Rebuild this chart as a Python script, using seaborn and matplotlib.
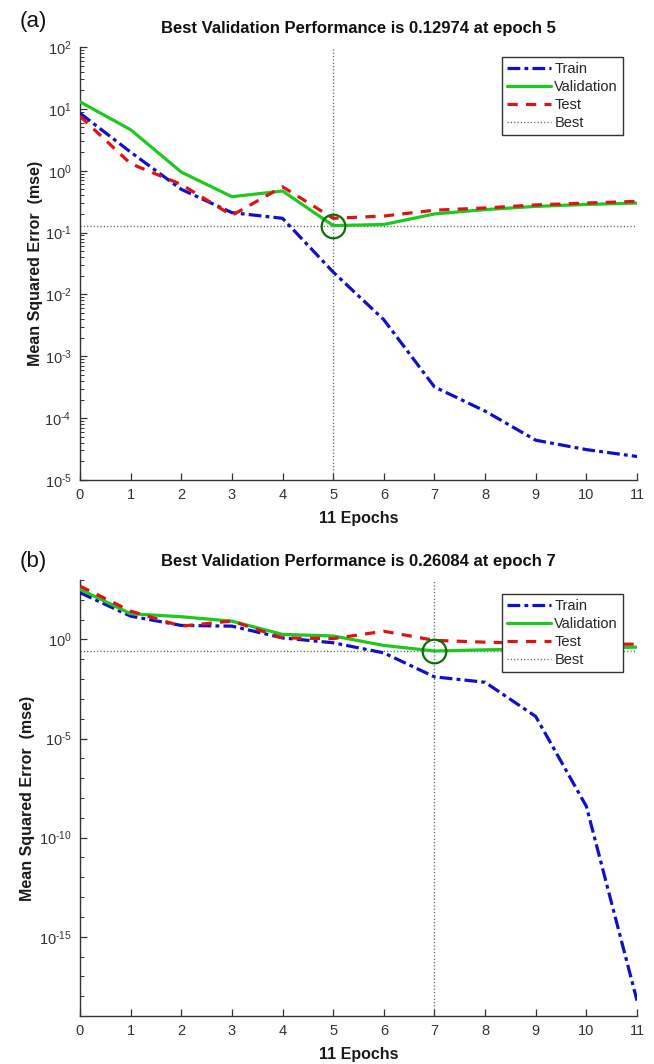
import numpy as np
import pandas as pd
import matplotlib
matplotlib.use("Agg")
import matplotlib.pyplot as plt
import seaborn as sns
from matplotlib.ticker import FixedLocator, LogLocator, FuncFormatter, NullFormatter
from matplotlib.lines import Line2D

# ---------------- data ----------------
epochs = list(range(12))

train_a = [8.5, 2.0, 0.5, 0.21, 0.17, 0.023, 0.0039, 3.2e-4, 1.3e-4, 4.4e-5, 3.1e-5, 2.4e-5]
val_a = [13.0, 4.6, 0.95, 0.38, 0.47, 0.12974, 0.135, 0.2, 0.235, 0.265, 0.285, 0.3]
test_a = [7.6, 1.3, 0.6, 0.19, 0.55, 0.17, 0.185, 0.23, 0.25, 0.28, 0.3, 0.32]
best_epoch_a = 5
best_val_a = 0.12974

train_b = [230, 15, 5.1, 4.7, 1.2, 0.68, 0.21, 0.013, 0.0069, 1.3e-4, 3.8e-9, 6e-19]
val_b = [340, 20, 14, 8.4, 1.8, 1.5, 0.5, 0.26084, 0.3, 0.33, 0.37, 0.41]
test_b = [490, 27, 4.7, 8.5, 1.2, 1.1, 2.6, 0.9, 0.73, 0.62, 0.56, 0.58]
best_epoch_b = 7
best_val_b = 0.26084

series_names = ["Train", "Validation", "Test", "Best"]
panel_tags = ["(a)", "(b)"]
x_label = "11 Epochs"
y_label = "Mean Squared Error  (mse)"

# ---------------- style ----------------
sns.set_theme(style="white")
plt.rcParams["font.family"] = ["Liberation Sans", "DejaVu Sans"]
plt.rcParams["mathtext.fontset"] = "custom"
plt.rcParams["mathtext.rm"] = "Liberation Sans"
plt.rcParams["mathtext.it"] = "Liberation Sans:italic"
plt.rcParams["mathtext.bf"] = "Liberation Sans:bold"
plt.rcParams["axes.unicode_minus"] = False

C_TRAIN = "#1010c8"
C_VAL = "#1ec81e"
C_TEST = "#dc1414"
C_BEST = "#3f6f4f"
C_CIRC = "#0a6e0a"
C_AX = "#333333"

LS_TRAIN = (0, (4.0, 1.3, 1.2, 1.3))
LS_TEST = (0, (3.2, 2.6))
LS_BEST = (0, (0.8, 1.6))
LW = 2.3


def pow_fmt(v, pos):
    e = int(round(np.log10(v)))
    if e < 0:
        return r"$\mathdefault{10^{\text{-}%d}}$" % (-e)
    return r"$\mathdefault{10^{%d}}$" % e


fig = plt.figure(figsize=(6.54, 10.64), dpi=100)
W, H = 654, 1064

def add_axes(left, top, right, bottom):
    return fig.add_axes([left / W, 1 - bottom / H, (right - left) / W, (bottom - top) / H])

ax_a = add_axes(80, 47, 637, 480)
ax_b = add_axes(80, 580, 637, 1016)


def draw(ax, tr, va, te, best_ep, best_v, ylim, ylab_right_px):
    df = pd.DataFrame({"Epoch": epochs, "Train": tr, "Validation": va, "Test": te})
    sns.lineplot(data=df, x="Epoch", y="Train", ax=ax, color=C_TRAIN, lw=LW,
                 linestyle=LS_TRAIN, zorder=3)
    sns.lineplot(data=df, x="Epoch", y="Validation", ax=ax, color=C_VAL, lw=LW,
                 linestyle="-", zorder=4)
    sns.lineplot(data=df, x="Epoch", y="Test", ax=ax, color=C_TEST, lw=LW,
                 linestyle=LS_TEST, zorder=5)
    ax.set_yscale("log")
    ax.set_xlim(0, 11)
    ax.set_ylim(*ylim)
    ax.axhline(best_v, color=C_BEST, lw=1.0, linestyle=LS_BEST, zorder=2)
    ax.axvline(best_ep, color=C_BEST, lw=1.0, linestyle=LS_BEST, zorder=2)
    ax.plot([best_ep], [best_v], marker="o", markersize=17, mfc="none",
            mec=C_CIRC, mew=1.6, zorder=6)
    ax.set_xticks(epochs)
    ax.set_xticklabels([str(e) for e in epochs])
    for s in ["top", "right"]:
        ax.spines[s].set_visible(False)
    for s in ["left", "bottom"]:
        ax.spines[s].set_color(C_AX)
        ax.spines[s].set_linewidth(1.0)
    ax.tick_params(axis="both", which="both", left=True, bottom=True, top=False, right=False)
    ax.tick_params(axis="both", which="major", direction="in", length=5, width=0.9,
                   color=C_AX, labelcolor="#333333", labelsize=10.5, pad=6)
    ax.tick_params(axis="y", which="minor", direction="in", length=3, width=0.7, color=C_AX)
    ax.tick_params(axis="x", which="minor", length=0)
    ax.set_xlabel(x_label, fontsize=11.5, fontweight="bold", color="#1a1a1a", labelpad=6)
    ax.set_ylabel(y_label, fontsize=11.5, fontweight="bold", color="#1a1a1a")
    ax.yaxis.set_label_coords((ylab_right_px - 80) / 557, 0.5)
    ax.grid(False)
    ax.set_facecolor("white")
    handles = [
        Line2D([], [], color=C_TRAIN, lw=LW, linestyle=LS_TRAIN),
        Line2D([], [], color=C_VAL, lw=LW, linestyle="-"),
        Line2D([], [], color=C_TEST, lw=LW, linestyle=LS_TEST),
        Line2D([], [], color=C_BEST, lw=1.0, linestyle=LS_BEST),
    ]
    return handles


h = draw(ax_a, train_a, val_a, test_a, best_epoch_a, best_val_a, (1e-5, 1e2), 43)
ax_a.yaxis.set_major_locator(FixedLocator([10.0 ** k for k in range(-5, 3)]))
ax_a.yaxis.set_major_formatter(FuncFormatter(pow_fmt))
ax_a.yaxis.set_minor_locator(LogLocator(base=10, subs=np.arange(2, 10), numticks=40))
ax_a.yaxis.set_minor_formatter(NullFormatter())
ax_a.set_title(f"Best Validation Performance is {best_val_a:.5f} at epoch {best_epoch_a}",
               fontsize=12, fontweight="bold", color="#111111", pad=10)
leg = ax_a.legend(h, series_names, loc="upper right", bbox_to_anchor=(0.975, 0.977),
                  frameon=True, fancybox=False, framealpha=1, edgecolor="#333333",
                  fontsize=10.5, handlelength=3.0, handletextpad=0.25,
                  labelspacing=0.28, borderpad=0.35, borderaxespad=0)
leg.get_frame().set_linewidth(1.0)

h = draw(ax_b, train_b, val_b, test_b, best_epoch_b, best_val_b, (1e-19, 1e3), 35)
ax_b.yaxis.set_major_locator(FixedLocator([1e-15, 1e-10, 1e-5, 1e0]))
ax_b.yaxis.set_major_formatter(FuncFormatter(pow_fmt))
ax_b.yaxis.set_minor_locator(FixedLocator([10.0 ** k for k in range(-19, 4)]))
ax_b.yaxis.set_minor_formatter(NullFormatter())
ax_b.set_title(f"Best Validation Performance is {best_val_b:.5f} at epoch {best_epoch_b}",
               fontsize=12, fontweight="bold", color="#111111", pad=10)
leg = ax_b.legend(h, series_names, loc="upper right", bbox_to_anchor=(0.975, 0.968),
                  frameon=True, fancybox=False, framealpha=1, edgecolor="#333333",
                  fontsize=10.5, handlelength=3.0, handletextpad=0.25,
                  labelspacing=0.28, borderpad=0.35, borderaxespad=0)
leg.get_frame().set_linewidth(1.0)

fig.text(20 / W, 1 - 22 / H, panel_tags[0], fontsize=16, va="center", ha="left", color="#111111")
fig.text(20 / W, 1 - 562 / H, panel_tags[1], fontsize=16, va="center", ha="left", color="#111111")

fig.savefig("out.png", dpi=100, facecolor="white")
